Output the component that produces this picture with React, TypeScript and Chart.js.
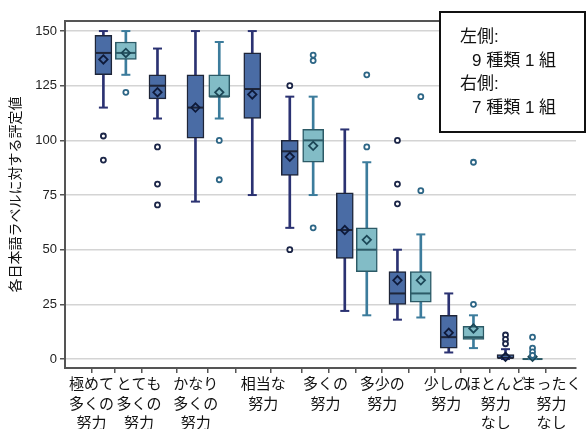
import { useEffect, useRef } from 'react';
import { Chart, registerables } from 'chart.js';

Chart.register(...registerables);

// ---- categories (x-axis labels) ----
const categories: string[][] = [
  ['極めて', '多くの', '努力'],
  ['とても', '多くの', '努力'],
  ['かなり', '多くの', '努力'],
  ['相当な', '努力'],
  ['多くの', '努力'],
  ['多少の', '努力'],
  ['少しの', '努力'],
  ['ほとんど', '努力', 'なし'],
  ['まったく', '努力', 'なし'],
];
const categoryX = [5.2, 14.5, 25.6, 38.8, 51.0, 62.1, 74.6, 84.3, 95.2];

// ---- y axis ----
const yTicks = [0, 25, 50, 75, 100, 125, 150];
const yTitle = '各日本語ラベルに対する評定値';

// ---- left series: 9 種類 1 組 (dark boxes) ----
const darkX = [4.68, 15.97, 23.9, 35.76, 43.59, 55.07, 66.06, 76.77, 88.62];
const darkMin = [115, 110, 72, 75, 60, 22, 18, 3, 0];
const darkQ1 = [130, 119, 101, 110, 84, 46, 25, 5, 0];
const darkMed = [140, 125, 115, 123.5, 95, 59, 30, 10, 0.5];
const darkQ3 = [148, 130, 130, 140, 100, 76, 40, 20, 2];
const darkMax = [150, 142, 150, 150, 120, 105, 50, 30, 4.5];
const darkMean = [137, 122, 115, 121, 92.5, 59, 36, 12, 1];
const darkOut: number[][] = [[102, 91], [97, 80, 70.5], [], [], [125, 50], [], [100, 80, 71], [], [11, 9, 7]];

// ---- right series: 7 種類 1 組 (light boxes) ----
const lightX = [9.37, 28.87, 48.47, 59.66, 70.94, 81.93, 94.26];
const lightMin = [130, 110, 75, 20, 19, 5, 0];
const lightQ1 = [137, 120, 90, 40, 26, 9, 0];
const lightMed = [140, 120, 100, 50, 30, 10, 0];
const lightQ3 = [145, 130, 105, 60, 40, 15, 0];
const lightMax = [150, 145, 120, 90, 57, 20, 0];
const lightMean = [140, 122, 97.5, 54.5, 36, 14, 1];
const lightOut: number[][] = [[122], [100, 82], [139, 136.5, 60], [130, 97], [120, 77], [90, 25], [10, 5, 3.3, 1.7]];

const legendLines = ['左側:', '9 種類 1 組', '右側:', '7 種類 1 組'];

type Colors = { fill: string; border: string; whisker: string; mean: string; outlier: string };

function boxDatasets(
  xs: number[], mins: number[], q1s: number[], meds: number[], q3s: number[], maxs: number[],
  means: number[], outs: number[][], c: Colors, boxWidth: number
): any[] {
  return [
    {
      type: 'bar', order: 6, grouped: false, barThickness: 2,
      data: xs.map((x, i) => ({ x, y: [mins[i], maxs[i]] })),
      backgroundColor: c.whisker, borderWidth: 0,
    },
    {
      type: 'bar', order: 5, grouped: false, barThickness: boxWidth,
      data: xs.map((x, i) => ({ x, y: [q1s[i], q3s[i]] })),
      backgroundColor: c.fill, borderColor: c.border, borderWidth: 1.5, borderSkipped: false,
    },
    {
      type: 'scatter', order: 4, showLine: false,
      data: xs.map((x, i) => ({ x, y: meds[i] })),
      pointStyle: 'line', pointRadius: boxWidth / 2 - 0.5, pointBorderWidth: 2, pointBorderColor: c.border,
    },
    {
      type: 'scatter', order: 3, showLine: false,
      data: xs.flatMap((x, i) => [{ x, y: maxs[i] }, { x, y: mins[i] }]),
      pointStyle: 'line', pointRadius: 4.5, pointBorderWidth: 2, pointBorderColor: c.whisker,
    },
    {
      type: 'scatter', order: 2, showLine: false,
      data: xs.map((x, i) => ({ x, y: means[i] })),
      pointStyle: 'rectRot', pointRadius: 4.2, pointBorderWidth: 1.8,
      pointBorderColor: c.mean, pointBackgroundColor: 'rgba(0,0,0,0)',
    },
    {
      type: 'scatter', order: 1, showLine: false,
      data: xs.flatMap((x, i) => outs[i].map((y) => ({ x, y }))),
      pointStyle: 'circle', pointRadius: 2.5, pointBorderWidth: 1.8,
      pointBorderColor: c.outlier, pointBackgroundColor: '#ffffff',
    },
  ];
}

const darkColors: Colors = { fill: '#4a6ca5', border: '#1e2538', whisker: '#2b3272', mean: '#0e1a3a', outlier: '#1b2547' };
const lightColors: Colors = { fill: '#82bcc6', border: '#2c5a66', whisker: '#3c7c9c', mean: '#1b4656', outlier: '#2d6686' };

const axisColor = '#555555';

const framePlugin = {
  id: 'frameAndNote',
  beforeDatasetsDraw(chart: any) {
    const { ctx, chartArea } = chart;
    ctx.save();
    ctx.strokeStyle = axisColor;
    ctx.lineWidth = 2;
    ctx.beginPath();
    ctx.moveTo(chartArea.left, chartArea.top);
    ctx.lineTo(chartArea.right, chartArea.top);
    ctx.stroke();
    ctx.restore();
  },
  afterDraw(chart: any) {
    const { ctx } = chart;
    ctx.save();
    ctx.fillStyle = '#ffffff';
    ctx.fillRect(440, 12, 145, 120);
    ctx.strokeStyle = '#111111';
    ctx.lineWidth = 2;
    ctx.strokeRect(440, 12, 145, 120);
    ctx.fillStyle = '#111111';
    ctx.font = "17px 'Liberation Sans', 'Noto Sans CJK JP'";
    ctx.textBaseline = 'middle';
    ctx.textAlign = 'left';
    const ys = [37, 61, 84, 108];
    const xs = [460, 472, 460, 472];
    legendLines.forEach((t, i) => ctx.fillText(t, xs[i], ys[i]));
    ctx.restore();
  },
};

export default function App() {
  const ref = useRef<HTMLCanvasElement | null>(null);
  useEffect(() => {
    document.body.style.margin = '0';
    const canvas = ref.current;
    if (!canvas) return;
    const allBoxX = [...darkX, ...lightX].sort((a, b) => a - b);
    const chart = new Chart(canvas, {
      type: 'scatter',
      data: {
        datasets: [
          ...boxDatasets(darkX, darkMin, darkQ1, darkMed, darkQ3, darkMax, darkMean, darkOut, darkColors, 17),
          ...boxDatasets(lightX, lightMin, lightQ1, lightMed, lightQ3, lightMax, lightMean, lightOut, lightColors, 21),
        ] as any,
      },
      options: {
        animation: false,
        responsive: false,
        events: [],
        layout: { padding: { top: 21, right: 0, left: 0, bottom: 0 } },
        plugins: { legend: { display: false }, tooltip: { enabled: false } },
        scales: {
          x: {
            type: 'linear', min: 0, max: 100, position: 'bottom', weight: 0,
            afterBuildTicks: (s: any) => { s.ticks = allBoxX.map((v) => ({ value: v })); },
            afterFit: (s: any) => { s.height = 6; s.paddingLeft = 0; s.paddingRight = 0; },
            grid: { display: true, drawOnChartArea: false, drawTicks: true, tickLength: 5, tickColor: axisColor, lineWidth: 1.5 },
            border: { display: true, color: axisColor, width: 2 },
            ticks: { display: false },
          },
          x2: {
            type: 'linear', min: 0, max: 100, position: 'bottom', weight: 1,
            afterBuildTicks: (s: any) => { s.ticks = categoryX.map((v) => ({ value: v })); },
            afterFit: (s: any) => { s.height = 55; s.paddingLeft = 0; s.paddingRight = 0; },
            grid: { display: false, drawTicks: false },
            border: { display: false },
            ticks: {
              autoSkip: false, maxRotation: 0, minRotation: 0, padding: 0,
              font: { family: "'Noto Sans CJK JP'", size: 15, lineHeight: 1.3 },
              color: '#111111',
              callback: (_v: any, i: number) => categories[i],
            },
          },
          y: {
            type: 'linear', min: -4.1, max: 154.6,
            afterBuildTicks: (s: any) => { s.ticks = yTicks.map((v) => ({ value: v })); },
            afterFit: (s: any) => { s.width = 65; s.paddingTop = 0; s.paddingBottom = 0; },
            grid: { color: '#d4d4d4', lineWidth: 1.5, tickColor: axisColor, tickLength: 5, drawTicks: true },
            border: { display: true, color: axisColor, width: 2 },
            ticks: { font: { family: "'Liberation Sans'", size: 13 }, color: '#222222', padding: 3 },
            title: {
              display: true, text: yTitle, color: '#111111',
              font: { family: "'Noto Sans CJK JP'", size: 14 },
              padding: { top: 6, bottom: 0 },
            },
          },
        },
      } as any,
      plugins: [framePlugin],
    });
    return () => chart.destroy();
  }, []);
  return (
    <div style={{ width: 588, height: 429 }}>
      <canvas ref={ref} width={588} height={429} style={{ display: 'block' }} />
    </div>
  );
}
